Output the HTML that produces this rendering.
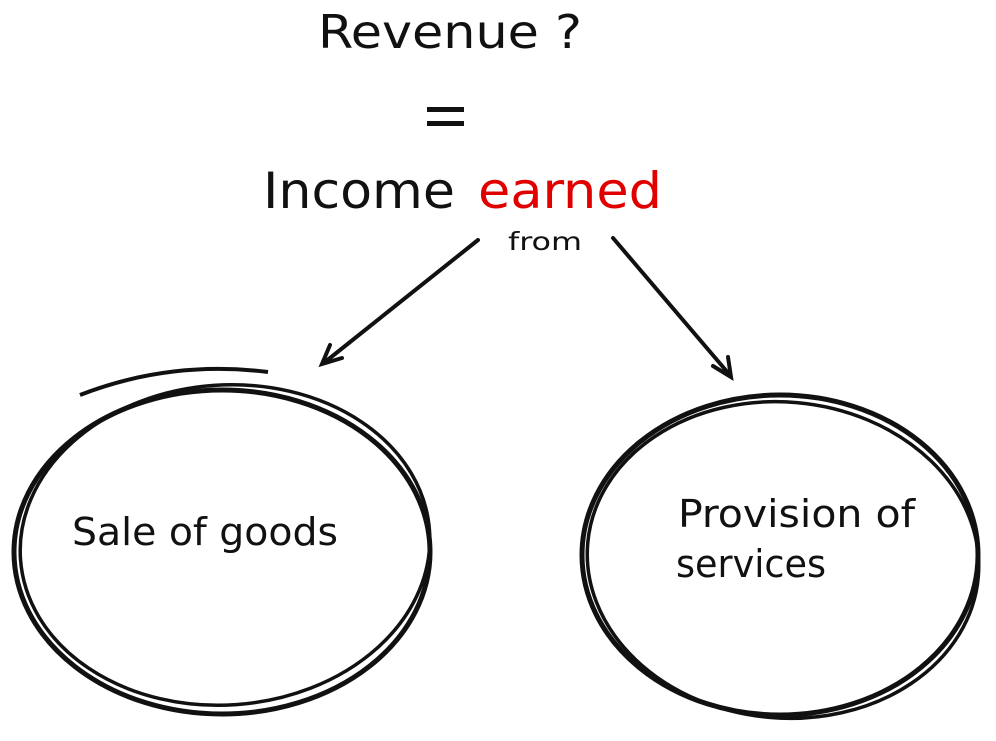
<!DOCTYPE html>
<html><head><meta charset="utf-8"><style>
html,body{margin:0;padding:0;background:#fff;width:996px;height:741px;overflow:hidden}
svg{display:block}
text{font-family:"DejaVu Sans Condensed","DejaVu Sans","Liberation Sans",sans-serif;fill:#111}
</style></head><body>
<svg width="996" height="741" viewBox="0 0 996 741">
<text x="318" y="48" font-size="46" textLength="264" lengthAdjust="spacingAndGlyphs">Revenue ?</text>
<rect x="427" y="107" width="37" height="5" fill="#111"/>
<rect x="427" y="121" width="37" height="5" fill="#111"/>
<text x="263" y="208" font-size="50" textLength="192" lengthAdjust="spacingAndGlyphs">Income</text>
<text x="478" y="208" font-size="50" textLength="184" lengthAdjust="spacingAndGlyphs" style="fill:#e00000">earned</text>
<text x="508" y="250" font-size="25" textLength="74" lengthAdjust="spacingAndGlyphs">from</text>
<g stroke="#111" stroke-width="4" fill="none" stroke-linecap="round">
<line x1="478" y1="240" x2="325" y2="362"/>
<polyline points="330,345 322,364 342,358"/>
<line x1="613" y1="238" x2="729" y2="374"/>
<polyline points="713,366 731,377 728,357"/>
</g>
<g stroke="#111" fill="none">
<ellipse cx="222" cy="552" rx="208" ry="162" stroke-width="5"/>
<ellipse cx="225" cy="545" rx="205" ry="160" stroke-width="3.5" transform="rotate(-4 225 545)"/>
<path d="M80,395 Q170,360 268,372" stroke-width="4"/>
<ellipse cx="780" cy="555" rx="198" ry="160" stroke-width="5"/>
<ellipse cx="783" cy="560" rx="196" ry="158" stroke-width="3.5" transform="rotate(5 783 560)"/>
</g>
<text x="72" y="545" font-size="38" textLength="266" lengthAdjust="spacingAndGlyphs">Sale of goods</text>
<text x="678" y="527" font-size="38" textLength="237" lengthAdjust="spacingAndGlyphs">Provision of</text>
<text x="676" y="577" font-size="38" textLength="150" lengthAdjust="spacingAndGlyphs">services</text>
</svg>
</body></html>
